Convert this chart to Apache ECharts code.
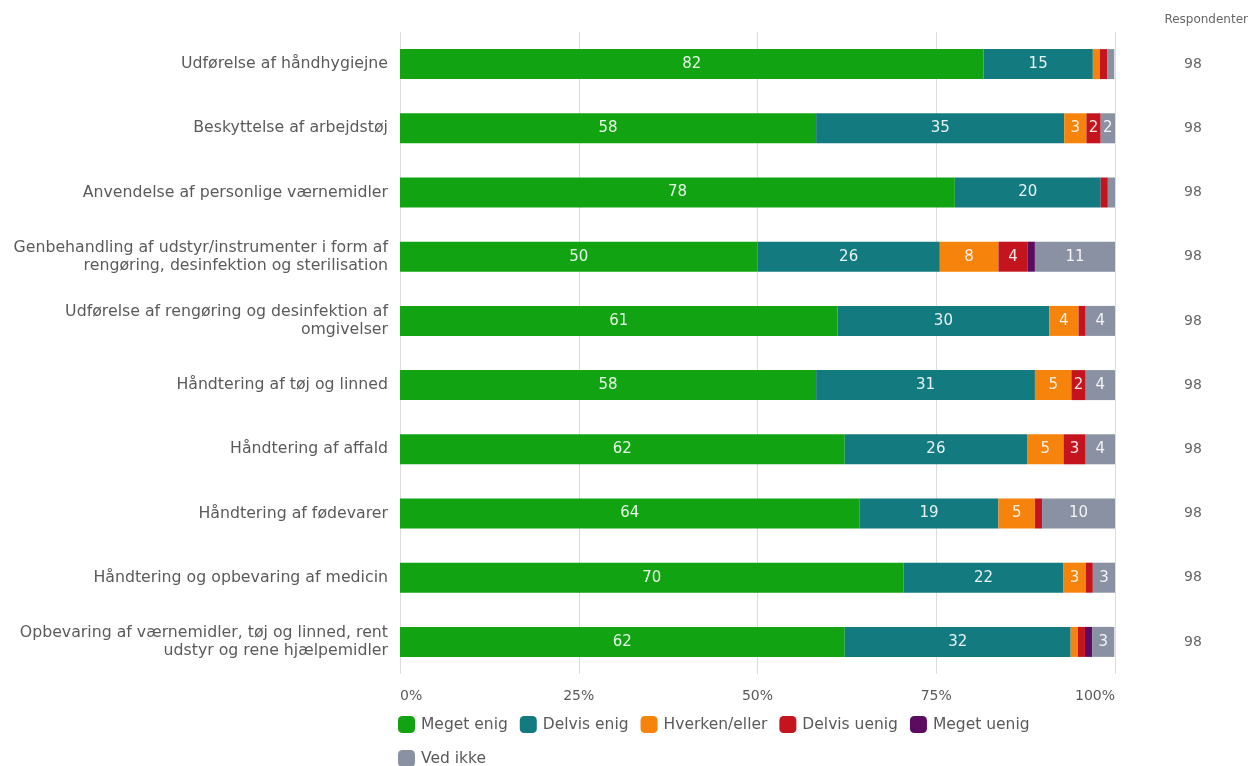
<!DOCTYPE html>
<html>
<head>
<meta charset="utf-8">
<script src="https://cdn.jsdelivr.net/npm/echarts@6/dist/echarts.min.js"></script>
<style>html,body{margin:0;padding:0;background:#fff}#c{width:1248px;height:766px}</style>
</head>
<body>
<div id="c"></div>
<script>
const categories = [
  "Udførelse af håndhygiejne",
  "Beskyttelse af arbejdstøj",
  "Anvendelse af personlige værnemidler",
  "Genbehandling af udstyr/instrumenter i form af\nrengøring, desinfektion og sterilisation",
  "Udførelse af rengøring og desinfektion af\nomgivelser",
  "Håndtering af tøj og linned",
  "Håndtering af affald",
  "Håndtering af fødevarer",
  "Håndtering og opbevaring af medicin",
  "Opbevaring af værnemidler, tøj og linned, rent\nudstyr og rene hjælpemidler"
];
const seriesNames = ["Meget enig", "Delvis enig", "Hverken/eller", "Delvis uenig", "Meget uenig", "Ved ikke"];
const megetEnig   = [81.6, 58.2, 77.6, 50.0, 61.2, 58.2, 62.2, 64.3, 70.4, 62.2];
const delvisEnig  = [15.3, 34.7, 20.4, 25.5, 29.6, 30.6, 25.5, 19.4, 22.4, 31.6];
const hverkenEller= [1.0, 3.1, 0, 8.2, 4.1, 5.1, 5.1, 5.1, 3.1, 1.0];
const delvisUenig = [1.0, 2.0, 1.0, 4.1, 1.0, 2.0, 3.1, 1.0, 1.0, 1.0];
const megetUenig  = [0, 0, 0, 1.0, 0, 0, 0, 0, 0, 1.0];
const vedIkke     = [1.0, 2.0, 1.0, 11.2, 4.1, 4.1, 4.1, 10.2, 3.1, 3.1];
const respondenter = [98, 98, 98, 98, 98, 98, 98, 98, 98, 98];
const xTicks = [0, 25, 50, 75, 100];

const colors = ["#12a312", "#137a80", "#f5830c", "#c4141e", "#5c0c60", "#8a91a3"];
const allData = [megetEnig, delvisEnig, hverkenEller, delvisUenig, megetUenig, vedIkke];

const chart = echarts.init(document.getElementById('c'));
const wide = '"DejaVu Sans", sans-serif';
const series = seriesNames.map((name, i) => ({
  name, type: 'bar', stack: 'total', barWidth: 30,
  itemStyle: { color: colors[i] },
  label: {
    show: true, position: 'inside', color: 'rgba(255,255,255,0.9)', fontSize: 15, fontFamily: wide,
    formatter: p => (p.value >= 1.5 ? Math.round(p.value) : '')
  },
  emphasis: { disabled: true },
  data: allData[i]
}));

const legendText = { fontSize: 15.5, fontFamily: wide, color: '#5a5a5a', padding: [0, 0, 0, 1] };
chart.setOption({
  animation: false,
  textStyle: { fontFamily: wide },
  grid: { left: 400, right: 133, top: 32, bottom: 92, containLabel: false },
  legend: [{
    data: seriesNames.slice(0, 5), left: 393, top: 711, itemWidth: 17, itemHeight: 17, itemGap: 12,
    icon: 'roundRect', textStyle: legendText, selectedMode: false
  }, {
    data: seriesNames.slice(5), left: 393, top: 745, itemWidth: 17, itemHeight: 17,
    icon: 'roundRect', textStyle: legendText, selectedMode: false
  }],
  graphic: [{
    type: 'text', right: 0, top: 14,
    style: { text: 'Respondenter', fontSize: 12, fill: '#666', fontFamily: wide }
  }],
  xAxis: {
    type: 'value', min: 0, max: 100, interval: 25,
    axisLine: { show: false }, axisTick: { show: false },
    splitLine: { lineStyle: { color: '#dcdcdc' } },
    axisLabel: {
      color: '#5a5a5a', fontSize: 14, fontFamily: wide, margin: 15, alignMinLabel: 'left', alignMaxLabel: 'right',
      formatter: v => xTicks.includes(v) ? v + '%' : ''
    }
  },
  yAxis: [{
    type: 'category', data: categories, inverse: true,
    axisLine: { show: false }, axisTick: { show: false },
    axisLabel: { color: '#5a5a5a', fontSize: 15.75, fontFamily: wide, margin: 12, lineHeight: 18, align: 'right' }
  }, {
    type: 'category', data: respondenter.map(String), inverse: true, position: 'right',
    axisLine: { show: false }, axisTick: { show: false },
    axisLabel: { color: '#666', fontSize: 14, fontFamily: wide, margin: 78, align: 'center' }
  }],
  series
});
</script>
</body>
</html>
